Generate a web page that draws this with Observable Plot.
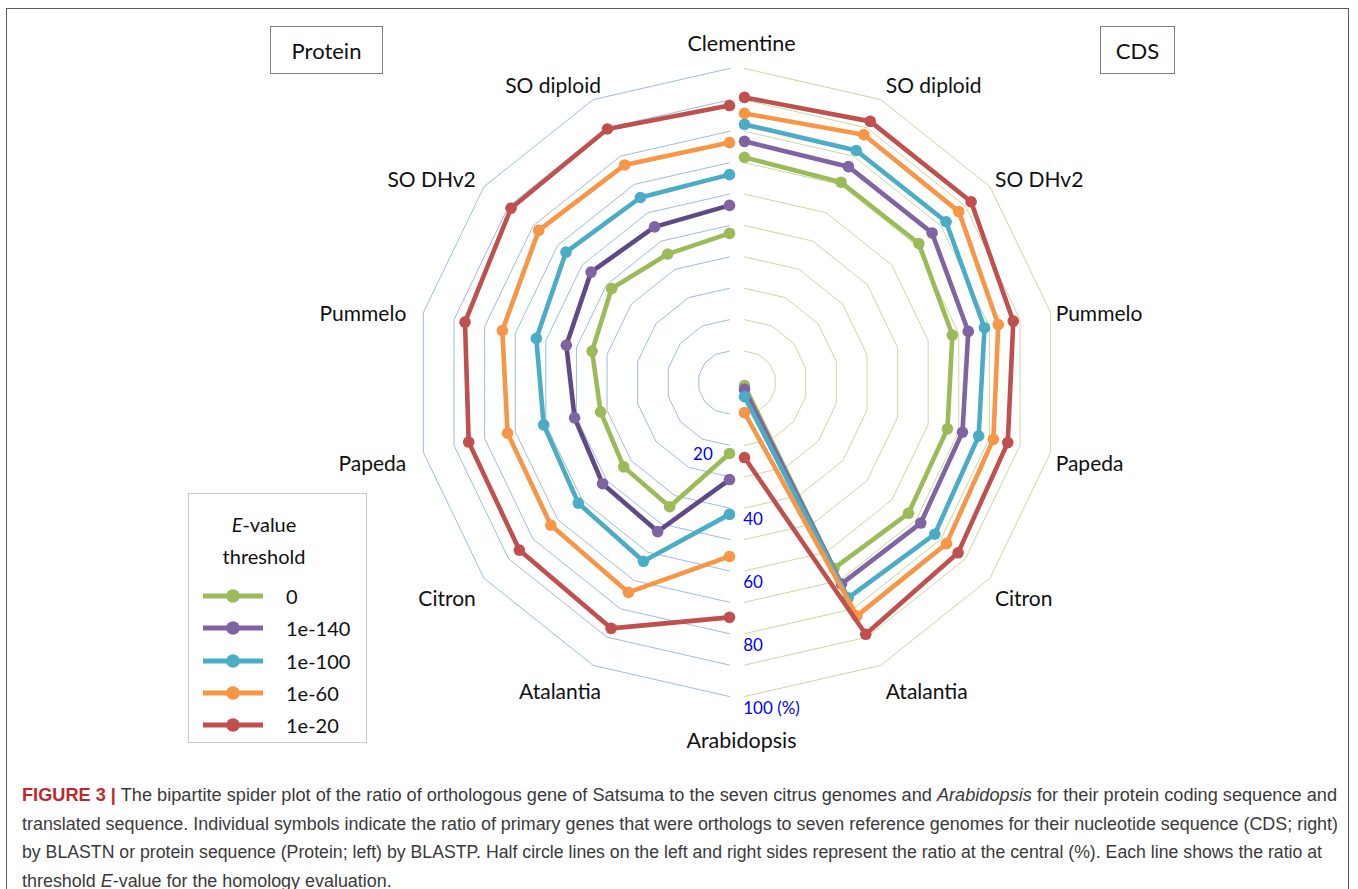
<!DOCTYPE html>
<html><head><meta charset="utf-8">
<script src="https://cdn.jsdelivr.net/npm/d3@7"></script>
<script src="https://cdn.jsdelivr.net/npm/@observablehq/plot@0.6"></script>
<style>
body{margin:0;background:#fff;width:1358px;height:889px;overflow:hidden;position:relative;font-family:Lato,"Open Sans",sans-serif;}
#frame{position:absolute;left:6px;top:8px;width:1343px;height:900px;border:1.5px solid #5a5a5a;border-bottom:none;box-sizing:border-box;}
#chart{position:absolute;left:0;top:0;}
.box{position:absolute;border:1.5px solid #808080;box-sizing:border-box;font-size:22px;display:flex;align-items:center;justify-content:center;color:#111;background:#fff;}
#legend{position:absolute;left:188px;top:493px;width:179px;height:250px;border:1.5px solid #c9c9c9;box-sizing:border-box;background:#fff;color:#111;font-size:20px;}
#legend .lt{position:absolute;left:0;width:150px;text-align:center;line-height:24px;}
#legend .row{position:absolute;left:14px;height:24px;display:flex;align-items:center;}
#legend .row span{margin-left:23px;}
#caption{position:absolute;left:22px;top:781px;font-family:"Liberation Sans Narrow","Liberation Sans",Arial,sans-serif;font-size:17.5px;line-height:28.6px;color:#3a3a3a;}
.cl{white-space:nowrap;transform-origin:0 50%;width:max-content;}
.fig{color:#c1272d;font-weight:bold;}
</style>
</head><body>
<div id="frame"></div>
<div id="chart"></div>
<div class="box" style="left:270px;top:26px;width:113px;height:48px;">Protein</div>
<div class="box" style="left:1100px;top:26px;width:75px;height:48px;">CDS</div>
<div id="legend"></div>
<div id="caption">
<div class="cl" data-w="1315"><span class="fig">FIGURE 3 |</span> The bipartite spider plot of the ratio of orthologous gene of Satsuma to the seven citrus genomes and <i>Arabidopsis</i> for their protein coding sequence and</div>
<div class="cl" data-w="1316">translated sequence. Individual symbols indicate the ratio of primary genes that were orthologs to seven reference genomes for their nucleotide sequence (CDS; right)</div>
<div class="cl" data-w="1300">by BLASTN or protein sequence (Protein; left) by BLASTP. Half circle lines on the left and right sides represent the ratio at the central (%). Each line shows the ratio at</div>
<div class="cl">threshold <i>E</i>-value for the homology evaluation.</div>
</div>
<script>
// ---------- data ----------
const categories = ["Clementine","SO diploid","SO DHv2","Pummelo","Papeda","Citron","Atalantia","Arabidopsis"];
const thresholds = ["0","1e-140","1e-100","1e-60","1e-20"];
// Protein (left half), % per category
const proteinE0   = [47.5, 45.4, 48.0, 44.9, 42.1, 43.1, 43.9, 22.6];
const proteinE140 = [56.4, 55.0, 56.4, 53.3, 50.6, 51.7, 52.7, 30.9];
const proteinE100 = [66.2, 65.4, 66.6, 63.1, 60.7, 61.6, 63.2, 42.0];
const proteinE60  = [76.4, 76.9, 77.7, 74.2, 72.5, 72.8, 74.2, 55.4];
const proteinE20  = [88.2, 89.6, 89.0, 86.4, 85.2, 85.6, 86.9, 74.8];
// CDS (right half), % per category
const cdsE0   = [71.7, 70.8, 71.0, 67.9, 66.3, 66.8, 65.7, 1.0];
const cdsE140 = [76.8, 76.3, 76.4, 73.1, 71.2, 71.8, 71.2, 2.2];
const cdsE100 = [82.2, 82.0, 82.1, 78.4, 76.5, 77.5, 76.1, 4.5];
const cdsE60  = [85.7, 87.6, 87.3, 82.9, 81.3, 82.3, 82.5, 9.6];
const cdsE20  = [90.8, 92.3, 92.3, 87.8, 86.0, 87.0, 89.0, 23.9];
const gridLevels = [10,20,30,40,50,60,70,80,90,100];
const tickValues = [20,40,60,80,100];
const tickLabels = ["20","40","60","80","100 (%)"];

// ---------- styles ----------
const seriesColors = ["#9bbb59","#8064a2","#4bacc6","#f79646","#c0504d"];
const proteinLineColors = ["#9bbb59","#5f4a86","#4bacc6","#f79646","#c0504d"];

// ---------- geometry ----------
const W = 1358, H = 760, PX = 3.14, CX = 736.5, CY = 382;
const OFF = 7.5 / PX;
const sides = [
  {name:"Protein", sign:-1, cx:-OFF, values:[proteinE0,proteinE140,proteinE100,proteinE60,proteinE20], grid:"#9dbbe0", lineColors:proteinLineColors},
  {name:"CDS", sign:1, cx:OFF, values:[cdsE0,cdsE140,cdsE100,cdsE60,cdsE20], grid:"#c8da9f", lineColors:seriesColors}
];
const ang = i => i * Math.PI / (categories.length - 1);
const px = (s, i, r) => s.cx + s.sign * r * Math.sin(ang(i));
const py = (s, i, r) => r * Math.cos(ang(i));

const marks = [];
// grid rings
for (const s of sides) {
  const rows = [];
  for (const lv of gridLevels) categories.forEach((c, i) => rows.push({x:px(s,i,lv), y:py(s,i,lv), lv}));
  marks.push(Plot.line(rows, {x:"x", y:"y", z:"lv", stroke:s.grid, strokeWidth:1}));
}
// series
thresholds.forEach((t, k) => {
  for (const s of sides) {
    const rows = s.values[k].map((v, i) => ({x:px(s,i,v), y:py(s,i,v), cat:categories[i], t}));
    marks.push(Plot.line(rows, {x:"x", y:"y", stroke:s.lineColors[k], strokeWidth:4.6, strokeLinejoin:"round"}));
    marks.push(Plot.dot(rows, {x:"x", y:"y", r:5.8, fill:seriesColors[k], stroke:"none"}));
  }
});
// category labels
const labRows = [];
for (const s of sides) {
  categories.forEach((c, i) => {
    if (i === 0 || i === categories.length - 1) return;
    const th = ang(i);
    const vx = px(s,i,100), vy = py(s,i,100);
    const dx = s.sign < 0 ? (8.8 - 14.6*Math.sin(th)) : 1.6;
    labRows.push({x:vx + dx, y:vy - 2.23 + 7.07*Math.cos(th), text:c, anchor: s.sign < 0 ? "end" : "start"});
  });
}
for (const a of ["end","start"]) {
  marks.push(Plot.text(labRows.filter(d => d.anchor === a), {x:"x", y:"y", text:"text", textAnchor:a, fontSize:21, fill:"#111", fontFamily:"Lato"}));
}
const midX = 4.5 / PX;
marks.push(Plot.text([categories[0]], {x:() => midX, y:() => 100 + 24/PX, text:d => d, fontSize:21.5, fill:"#111", fontFamily:"Lato"}));
marks.push(Plot.text([categories[categories.length-1]], {x:() => midX, y:() => -100 - 45/PX, text:d => d, fontSize:21.5, fill:"#111", fontFamily:"Lato"}));
// radial tick labels along bottom axis
const tickRows = tickValues.map((v, i) => ({v, label:tickLabels[i]}));
marks.push(Plot.text(tickRows.filter(d => d.v === 20), {x:() => -OFF - 5.3, y:d => -d.v - 2.9, text:"label", textAnchor:"end", fontSize:17, fill:"#0000ff", fontFamily:"Lato"}));
marks.push(Plot.text(tickRows.filter(d => d.v !== 20), {x:() => OFF - 0.4, y:d => -d.v - 3.8, text:"label", textAnchor:"start", fontSize:17, fill:"#0000ff", fontFamily:"Lato"}));

const chart = Plot.plot({
  width: W, height: H, margin: 0,
  x: {domain:[-CX/PX, (W-CX)/PX], axis:null},
  y: {domain:[(CY-H)/PX, CY/PX], axis:null},
  style: {background:"transparent", overflow:"visible"},
  marks
});
document.getElementById("chart").append(chart);

// legend
const lg = document.getElementById("legend");
lg.innerHTML = `<div class="lt" style="top:18px"><i>E</i>-value</div><div class="lt" style="top:50px">threshold</div>` +
  thresholds.map((t, k) => `<div class="row" style="top:${90 + k*32.3}px"><svg width="60" height="16"><line x1="0" y1="8" x2="60" y2="8" stroke="${seriesColors[k]}" stroke-width="5"/><circle cx="30" cy="8" r="6.8" fill="${seriesColors[k]}"/></svg><span>${t}</span></div>`).join("");

// fit caption line widths (last line uses the mean scale of the others)
const lines = [...document.querySelectorAll(".cl")];
const scales = [];
lines.forEach(el => {
  if (!el.dataset.w) return;
  const s = (+el.dataset.w) / el.getBoundingClientRect().width;
  scales.push(s);
  el.style.transform = `scaleX(${s})`;
});
const meanS = scales.reduce((a, b) => a + b, 0) / scales.length;
lines.forEach(el => { if (!el.dataset.w) el.style.transform = `scaleX(${meanS})`; });
</script>
</body></html>
